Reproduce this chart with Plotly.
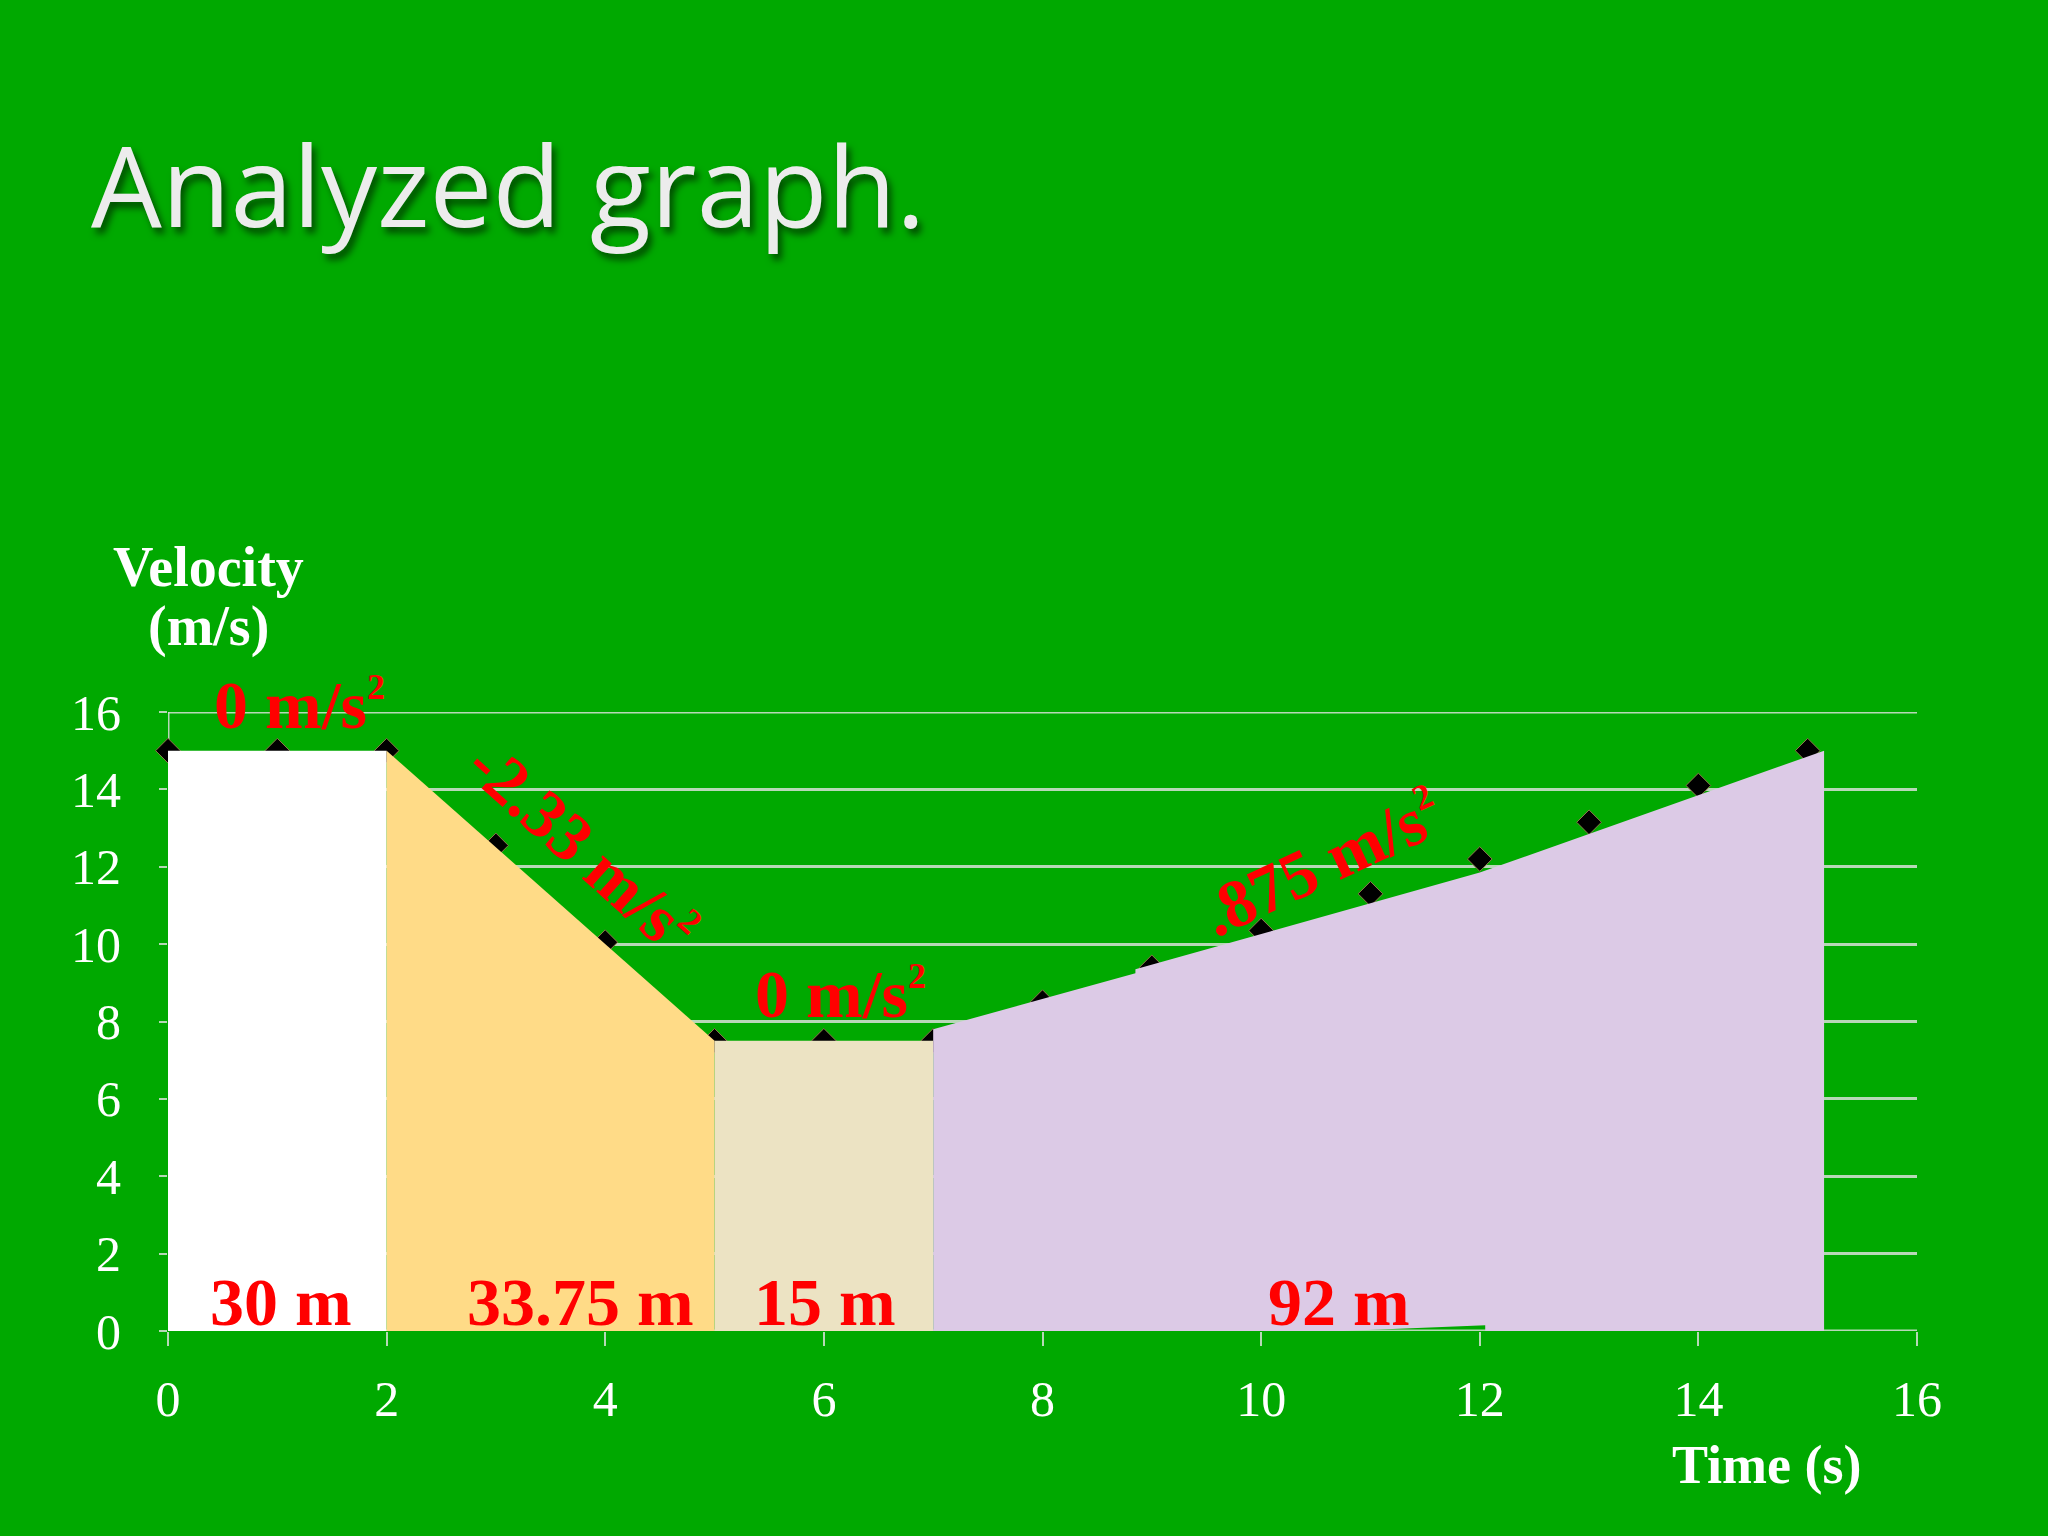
import plotly.graph_objects as go

# ---- data ----
time_s = [0, 1, 2, 3, 4, 5, 6, 7, 8, 9, 10, 11, 12, 13, 14, 15]
velocity = [15, 15, 15, 12.55, 10.05, 7.5, 7.5, 7.5, 8.5, 9.4, 10.35, 11.3, 12.2, 13.15, 14.1, 15.0]

# shaded regions (area under the curve)
white_x = [0, 2, 2, 0]
white_y = [15, 15, 0, 0]
orange_x = [2, 5, 5, 2]
orange_y = [15, 7.5, 0, 0]
beige_x = [5, 7, 7, 5]
beige_y = [7.5, 7.5, 0, 0]
lav_x = [7, 8.85, 8.85, 12.0, 15.15, 15.15, 12.05, 12.05, 9.02, 9.02, 7]
lav_y = [7.8, 9.25, 9.35, 11.85, 15.0, 0, 0, 0.15, -0.2, 0, 0]

area_labels = ["30 m", "33.75 m", "15 m", "92 m"]
SUP2 = "<sup><span style='font-size:36px'>2</span></sup>"
accel_labels = ["0 m/s" + SUP2, "-2.33 m/s" + SUP2, "0 m/s" + SUP2, ".875 m/s" + SUP2]
x_ticks = [0, 2, 4, 6, 8, 10, 12, 14, 16]
y_ticks = [0, 2, 4, 6, 8, 10, 12, 14, 16]

GREEN = "#00a900"
GRID = "rgba(215,225,215,0.85)"
SERIF = "Liberation Serif, Times New Roman, serif"

fig = go.Figure()

fig.add_trace(go.Scatter(
    x=time_s, y=velocity, mode="markers",
    marker=dict(symbol="diamond", size=19, color="black",
                line=dict(color="#8c7a4a", width=1)),
    showlegend=False, hoverinfo="skip", cliponaxis=False))

for xs, ys, col in [(white_x, white_y, "#ffffff"),
                    (orange_x, orange_y, "#ffdb87"),
                    (beige_x, beige_y, "#ece3c3"),
                    (lav_x, lav_y, "#dccae6")]:
    fig.add_trace(go.Scatter(
        x=xs, y=ys, fill="toself", fillcolor=col, mode="lines",
        line=dict(width=0, color=col), showlegend=False,
        hoverinfo="skip", cliponaxis=False))

red_font = dict(family=SERIF, size=68, color="#ff0000", weight="bold")

# area labels
for txt, xp in zip(area_labels, [1.03, 3.77, 6.01, 10.71]):
    fig.add_annotation(x=xp, y=0.75, xref="x", yref="y", text=txt,
                       xanchor="center", yanchor="middle",
                       showarrow=False, font=red_font)

# acceleration labels (first one sits above the plot area -> paper coords)
fig.add_annotation(x=0.075, y=1.011, xref="paper", yref="paper",
                   text=accel_labels[0], xanchor="center", yanchor="middle",
                   showarrow=False, font=red_font)
acc_pos = [(3.78, 12.5, 42), (6.15, 8.7, 0), (10.56, 12.1, -25)]
for txt, (xp, yp, ang) in zip(accel_labels[1:], acc_pos):
    fig.add_annotation(x=xp, y=yp, xref="x", yref="y", text=txt,
                       xanchor="center", yanchor="middle",
                       showarrow=False, textangle=ang, font=red_font)

# axis titles
axis_font = dict(family=SERIF, size=56, color="white", weight="bold")
fig.add_annotation(x=0.023, y=1.235, xref="paper", yref="paper",
                   text="Velocity", showarrow=False, font=axis_font,
                   xanchor="center", yanchor="middle")
fig.add_annotation(x=0.023, y=1.138, xref="paper", yref="paper",
                   text="(m/s)", showarrow=False, font=axis_font,
                   xanchor="center", yanchor="middle")
fig.add_annotation(x=0.914, y=-0.216, xref="paper", yref="paper",
                   text="Time (s)", showarrow=False,
                   font=dict(family=SERIF, size=54, color="white", weight="bold"),
                   xanchor="center", yanchor="middle")

fig.update_layout(
    width=2048, height=1536,
    paper_bgcolor=GREEN, plot_bgcolor=GREEN,
    margin=dict(l=168, r=131, t=712, b=205),
    title=dict(text="Analyzed graph.", x=0.0444, xanchor="left",
               xref="container", y=0.878, yref="container", yanchor="middle",
               font=dict(family="Open Sans, Noto Sans, sans-serif", size=112,
                         color="#ececec",
                         shadow="4px 6px 7px rgba(0,0,0,0.55)")),
    xaxis=dict(range=[0, 16], tickvals=x_ticks, ticktext=[str(v) for v in x_ticks],
               showgrid=False, zeroline=False, showline=False,
               ticks="outside", ticklen=14, tickwidth=2, tickcolor=GRID,
               ticklabelstandoff=10,
               tickfont=dict(family=SERIF, size=50, color="white")),
    yaxis=dict(range=[0, 16], tickvals=y_ticks, ticktext=[str(v) for v in y_ticks],
               showgrid=True, gridcolor=GRID, gridwidth=3, zeroline=False,
               showline=False, ticks="outside", ticklen=8, tickwidth=2,
               tickcolor=GRID, ticklabelstandoff=28,
               tickfont=dict(family=SERIF, size=50, color="white")),
)

# axis lines at x=0, y=0 and the top gridline at y=16, drawn below traces
fig.add_shape(type="line", x0=0, x1=16, y0=0, y1=0, xref="x", yref="y",
              line=dict(color=GRID, width=3), layer="below")
fig.add_shape(type="line", x0=0, x1=16, y0=16, y1=16, xref="x", yref="y",
              line=dict(color=GRID, width=3), layer="below")
fig.add_shape(type="line", x0=0, x1=0, y0=0, y1=16, xref="x", yref="y",
              line=dict(color=GRID, width=3), layer="below")

fig.write_html("out.html", config={"displayModeBar": False},
               post_script="document.body.style.margin='0';")
